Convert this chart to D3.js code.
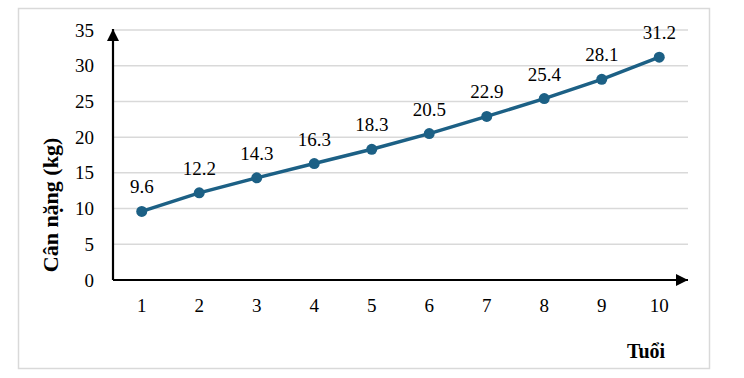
<!DOCTYPE html>
<html><head><meta charset="utf-8">
<script src="https://cdn.jsdelivr.net/npm/d3@7"></script>
<style>body{margin:0;background:#fff} svg text{font-family:"Liberation Serif","Times New Roman",Tinos,"DejaVu Serif",serif !important;}</style>
</head><body>
<svg id="c" width="744" height="378"></svg>
<script>
const ages = ["1","2","3","4","5","6","7","8","9","10"];
const weights = [9.6, 12.2, 14.3, 16.3, 18.3, 20.5, 22.9, 25.4, 28.1, 31.2];
const yTicks = [0, 5, 10, 15, 20, 25, 30, 35];
const yTitle = "Cân nặng (kg)";
const xTitle = "Tuổi";

const svg = d3.select("#c");
const color = "#1c6085";
const L = 113, R = 688, T = 30, B = 280;
const fs = 19;

svg.append("rect").attr("x", 18.5).attr("y", 8.5).attr("width", 691).attr("height", 360)
  .attr("fill", "#fff").attr("stroke", "#d9d9d9").attr("stroke-width", 1.5);

const x = d3.scaleBand().domain(ages).range([L, R]);
const y = d3.scaleLinear().domain([0, 35]).range([B, T]);

svg.append("g").selectAll("line").data(yTicks.filter(d => d > 0)).join("line")
  .attr("x1", L).attr("x2", R).attr("y1", d => y(d)).attr("y2", d => y(d))
  .attr("stroke", "#d9d9d9").attr("stroke-width", 1.5);

const yAxis = svg.append("g").attr("transform", `translate(${L},0)`)
  .call(d3.axisLeft(y).tickValues(yTicks).tickSize(0).tickPadding(19));
yAxis.select(".domain").remove();
yAxis.selectAll("text").attr("font-size", fs).attr("fill", "#000");

const xAxis = svg.append("g").attr("transform", `translate(0,${B})`)
  .call(d3.axisBottom(x).tickSize(0).tickPadding(19));
xAxis.select(".domain").remove();
xAxis.selectAll("text").attr("font-size", fs).attr("fill", "#000");

const defs = svg.append("defs");
defs.append("marker").attr("id", "arr").attr("viewBox", "0 0 10 10").attr("refX", 10).attr("refY", 5)
  .attr("markerWidth", 12).attr("markerHeight", 12).attr("markerUnits", "userSpaceOnUse").attr("orient", "auto")
  .append("path").attr("d", "M0,0L10,5L0,10Z").attr("fill", "#000");
svg.append("line").attr("x1", L).attr("y1", B).attr("x2", R).attr("y2", B)
  .attr("stroke", "#000").attr("stroke-width", 2.2).attr("marker-end", "url(#arr)");
svg.append("line").attr("x1", L).attr("y1", B).attr("x2", L).attr("y2", T - 1)
  .attr("stroke", "#000").attr("stroke-width", 2.2).attr("marker-end", "url(#arr)");

const cx = d => x(d) + x.bandwidth() / 2;
svg.append("path").datum(weights.map((w, i) => [ages[i], w]))
  .attr("fill", "none").attr("stroke", color).attr("stroke-width", 3.5)
  .attr("d", d3.line().x(d => cx(d[0])).y(d => y(d[1])));
svg.append("g").selectAll("circle").data(weights).join("circle")
  .attr("cx", (d, i) => cx(ages[i])).attr("cy", d => y(d)).attr("r", 5.5).attr("fill", color);
svg.append("g").selectAll("text").data(weights).join("text")
  .attr("x", (d, i) => cx(ages[i])).attr("y", d => y(d) - 18)
  .attr("text-anchor", "middle").attr("font-size", fs).attr("fill", "#000")
  .text(d => d.toFixed(1));

svg.append("text").attr("transform", `translate(58,205) rotate(-90)`)
  .attr("text-anchor", "middle").attr("font-size", 22).attr("font-weight", "bold")
  .text(yTitle);
svg.append("text").attr("x", 646).attr("y", 358).attr("text-anchor", "middle")
  .attr("font-size", 20).attr("font-weight", "bold").text(xTitle);
</script>
</body></html>
